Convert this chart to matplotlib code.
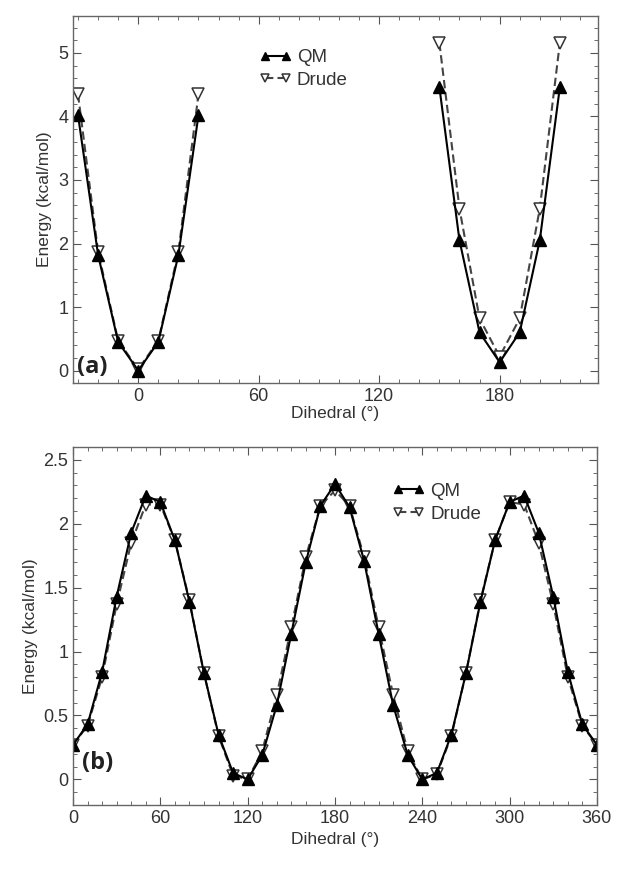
import numpy as np
import matplotlib
matplotlib.use("Agg")
import matplotlib.pyplot as plt
from matplotlib.ticker import MultipleLocator, FuncFormatter

plt.rcParams["font.family"] = ["Liberation Sans", "DejaVu Sans"]

# panel (a): two wells
ang_a_left = [-30, -20, -10, 0, 10, 20, 30]
qm_a_left = [4.02, 1.82, 0.45, 0.00, 0.45, 1.82, 4.02]
drude_a_left = [4.35, 1.87, 0.47, 0.02, 0.47, 1.87, 4.35]

ang_a_right = [150, 160, 170, 180, 190, 200, 210]
qm_a_right = [4.46, 2.05, 0.60, 0.13, 0.60, 2.05, 4.46]
drude_a_right = [5.16, 2.55, 0.82, 0.22, 0.82, 2.55, 5.16]

# panel (b): full scan
ang_b = list(range(0, 361, 10))
qm_b = [0.27, 0.43, 0.84, 1.43, 1.93, 2.22, 2.17, 1.87, 1.39, 0.83,
        0.35, 0.05, 0.00, 0.19, 0.58, 1.14, 1.70, 2.14, 2.31, 2.13,
        1.71, 1.14, 0.58, 0.19, 0.00, 0.05, 0.35, 0.83, 1.39, 1.87,
        2.17, 2.22, 1.93, 1.43, 0.84, 0.43, 0.27]
drude_b = [0.27, 0.42, 0.80, 1.37, 1.85, 2.15, 2.15, 1.87, 1.40, 0.83,
           0.34, 0.03, 0.00, 0.22, 0.66, 1.19, 1.74, 2.14, 2.26, 2.14,
           1.74, 1.19, 0.66, 0.22, 0.00, 0.04, 0.34, 0.83, 1.40, 1.87,
           2.17, 2.15, 1.85, 1.37, 0.80, 0.42, 0.27]

txt = "#333333"
qm_kw = dict(color="black", lw=1.5, ls="-", marker="^", ms=8,
             mfc="black", mec="black")
dr_kw = dict(color="#444444", lw=1.5, ls=(0, (4, 2)), marker="v", ms=8,
             mfc="white", mec="#333333", mew=1.1)


def style(ax):
    ax.tick_params(which="both", direction="in", top=True, right=True,
                   colors="#555555", labelcolor=txt, labelsize=13)
    ax.tick_params(which="major", length=6)
    ax.tick_params(which="minor", length=3)
    for s in ax.spines.values():
        s.set_color("#666666")
        s.set_linewidth(1.0)


def add_legend(ax, handles, anchor):
    ax.legend(handles=handles, loc="upper left", bbox_to_anchor=anchor,
              numpoints=2, handlelength=1.7, frameon=False, fontsize=13.5,
              labelspacing=0.3, handletextpad=0.3, labelcolor=txt,
              markerscale=0.7, borderaxespad=0, borderpad=0)


fig = plt.figure(figsize=(6.32, 8.71), dpi=100)

ax1 = fig.add_axes([0.1155, 0.560, 0.8307, 0.4215])
ax1.plot(ang_a_left, drude_a_left, **dr_kw)
ax1.plot(ang_a_left, qm_a_left, **qm_kw)
ax1.plot(ang_a_right, drude_a_right, **dr_kw)
l_qm, = ax1.plot(ang_a_right, qm_a_right, **qm_kw, label="QM")
l_dr, = ax1.plot([], [], **dr_kw, label="Drude")
ax1.set_xlim(-32.5, 229)
ax1.set_ylim(-0.2, 5.58)
ax1.xaxis.set_major_locator(MultipleLocator(60))
ax1.xaxis.set_minor_locator(MultipleLocator(10))
ax1.yaxis.set_major_locator(MultipleLocator(1))
ax1.yaxis.set_minor_locator(MultipleLocator(0.2))
style(ax1)
ax1.set_xlabel("Dihedral (°)", color=txt, fontsize=12.5, labelpad=1)
ax1.set_ylabel("Energy (kcal/mol)", color=txt, fontsize=12.5, labelpad=4)
add_legend(ax1, [l_qm, l_dr], (0.355, 0.91))
ax1.text(-30.5, 0.05, "(a)", fontsize=17, fontweight="bold",
         family=["Open Sans", "DejaVu Sans"], va="center", ha="left",
         color="#222222")

ax2 = fig.add_axes([0.1155, 0.0758, 0.829, 0.411])
ax2.plot(ang_b, drude_b, **dr_kw)
q2, = ax2.plot(ang_b, qm_b, **qm_kw, label="QM")
d2, = ax2.plot([], [], **dr_kw, label="Drude")
ax2.set_xlim(0, 360)
ax2.set_ylim(-0.2, 2.6)
ax2.xaxis.set_major_locator(MultipleLocator(60))
ax2.xaxis.set_minor_locator(MultipleLocator(10))
ax2.yaxis.set_major_locator(MultipleLocator(0.5))
ax2.yaxis.set_minor_locator(MultipleLocator(0.1))
ax2.yaxis.set_major_formatter(FuncFormatter(lambda v, p: f"{v:g}"))
style(ax2)
ax2.set_xlabel("Dihedral (°)", color=txt, fontsize=12.5, labelpad=4)
ax2.set_ylabel("Energy (kcal/mol)", color=txt, fontsize=12.5, labelpad=4)
add_legend(ax2, [q2, d2], (0.61, 0.90))
ax2.text(6, 0.13, "(b)", fontsize=17, fontweight="bold",
         family=["Open Sans", "DejaVu Sans"], va="center", ha="left",
         color="#222222")

fig.savefig("out.png", dpi=100)
